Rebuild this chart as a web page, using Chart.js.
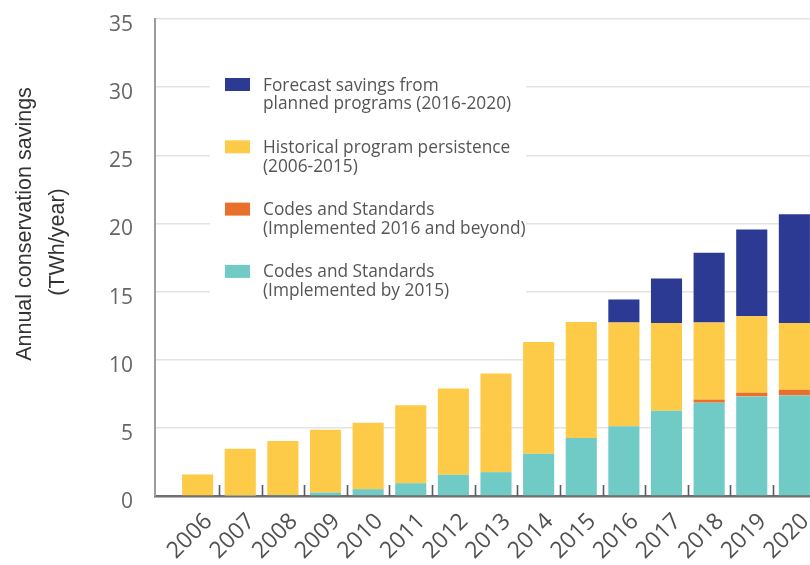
<!DOCTYPE html>
<html>
<head>
<meta charset="utf-8">
<title>Annual conservation savings</title>
<script src="https://cdn.jsdelivr.net/npm/chart.js@4.4.1/dist/chart.umd.min.js"></script>
<style>
  html, body { margin: 0; padding: 0; background: #ffffff; overflow: hidden; }
  #wrap { width: 860px; height: 565px; }
</style>
</head>
<body>
<div id="wrap"><canvas id="chart" width="860" height="565"></canvas></div>
<script>
// Annual conservation savings, TWh/year
const years = [2006, 2007, 2008, 2009, 2010, 2011, 2012, 2013, 2014, 2015, 2016, 2017, 2018, 2019, 2020];
const codesBy2015   = [0, 0.03, 0.08, 0.25, 0.5, 0.94, 1.56, 1.75, 3.10, 4.25, 5.11, 6.26, 6.85, 7.31, 7.38];
const codes2016On   = [0, 0, 0, 0, 0, 0, 0, 0, 0, 0, 0, 0, 0.22, 0.27, 0.42];
const historical    = [1.58, 3.44, 3.95, 4.61, 4.88, 5.71, 6.32, 7.23, 8.20, 8.52, 7.62, 6.44, 5.66, 5.61, 4.90];
const forecast      = [0, 0, 0, 0, 0, 0, 0, 0, 0, 0, 1.69, 3.26, 5.11, 6.37, 7.98];
const yTickValues   = [0, 5, 10, 15, 20, 25, 30, 35];

const labelForecast   = ['Forecast savings from', 'planned programs (2016-2020)'];
const labelHistorical = ['Historical program persistence', '(2006-2015)'];
const labelCodesNew   = ['Codes and Standards', '(Implemented 2016 and beyond)'];
const labelCodesOld   = ['Codes and Standards', '(Implemented by 2015)'];
const yTitleLines     = ['Annual conservation savings', '(TWh/year)'];

const toPoints = (vals) => years.map((yr, i) => ({ x: yr, y: vals[i] }));

const UI_FONT = "'Open Sans', 'Noto Sans', sans-serif";

// Small tick marks standing on the x axis between neighbouring bars
const boundaryTicks = {
  id: 'boundaryTicks',
  afterDatasetsDraw(chart) {
    const xs = chart.scales.x, ys = chart.scales.y, ctx = chart.ctx;
    ctx.save();
    ctx.strokeStyle = '#56596b';
    ctx.lineWidth = 1.6;
    for (let i = 0; i < years.length - 1; i++) {
      const px = Math.round(xs.getPixelForValue((years[i] + years[i + 1]) / 2)) + 0.5;
      ctx.beginPath();
      ctx.moveTo(px, ys.bottom - 11);
      ctx.lineTo(px, ys.bottom);
      ctx.stroke();
    }
    ctx.restore();
  }
};

// Legend block inside the plot, listed from the top of the stack down
const boxLegend = {
  id: 'boxLegend',
  afterDatasetsDraw(chart) {
    const ctx = chart.ctx;
    const sets = chart.data.datasets.slice().reverse();
    ctx.save();
    ctx.fillStyle = '#ffffff';
    ctx.fillRect(210, 60, 316, 246);
    ctx.font = '17.3px ' + UI_FONT;
    ctx.textBaseline = 'alphabetic';
    ctx.textAlign = 'left';
    sets.forEach((ds, i) => {
      const top = 78 + i * 62.3;
      ctx.fillStyle = ds.backgroundColor;
      ctx.fillRect(225, top, 25, 13);
      ctx.fillStyle = '#555555';
      ds.label.forEach((line, j) => {
        ctx.fillText(line, 263, top + 12.5 + j * 18.8);
      });
    });
    ctx.restore();
  }
};

// Two-line rotated title beside the value axis
const yTitle = {
  id: 'yTitle',
  afterDraw(chart) {
    const ctx = chart.ctx;
    const spots = [[25, 224], [58, 242]];
    ctx.save();
    ctx.fillStyle = '#333333';
    ctx.font = "21.5px 'Liberation Sans', Arial, sans-serif";
    ctx.textAlign = 'center';
    ctx.textBaseline = 'middle';
    yTitleLines.forEach((line, i) => {
      ctx.save();
      ctx.translate(spots[i][0], spots[i][1]);
      ctx.rotate(-Math.PI / 2);
      ctx.fillText(line, 0, 0);
      ctx.restore();
    });
    ctx.restore();
  }
};

const barCommon = { barPercentage: 0.73, categoryPercentage: 1.0, borderWidth: 0 };

new Chart(document.getElementById('chart'), {
  type: 'bar',
  data: {
    datasets: [
      { ...barCommon, label: labelCodesOld,   data: toPoints(codesBy2015), backgroundColor: '#70cbc6' },
      { ...barCommon, label: labelCodesNew,   data: toPoints(codes2016On), backgroundColor: '#e9702b' },
      { ...barCommon, label: labelHistorical, data: toPoints(historical),  backgroundColor: '#fecb48' },
      { ...barCommon, label: labelForecast,   data: toPoints(forecast),    backgroundColor: '#2d3a94' }
    ]
  },
  options: {
    responsive: false,
    animation: false,
    devicePixelRatio: 1,
    layout: { padding: { top: 19, right: 23, bottom: 0, left: 0 } },
    plugins: {
      legend: { display: false },
      tooltip: { enabled: false }
    },
    scales: {
      x: {
        type: 'linear',
        stacked: true,
        min: 2005,
        max: 2021,
        offset: false,
        afterBuildTicks(axis) { axis.ticks = years.map(v => ({ value: v })); },
        afterFit(axis) { axis.height = 69; axis.paddingLeft = 0; axis.paddingRight = 0; },
        grid: { display: false },
        border: { display: true, color: '#6e6e6e', width: 2.5 },
        ticks: {
          autoSkip: false,
          minRotation: 45,
          maxRotation: 45,
          padding: 4,
          labelOffset: 11,
          color: '#505050',
          font: { family: UI_FONT, size: 23 },
          callback: (v) => String(v)
        }
      },
      y: {
        stacked: true,
        min: 0,
        max: 35,
        afterBuildTicks(axis) { axis.ticks = yTickValues.map(v => ({ value: v })); },
        afterFit(axis) { axis.width = 155; axis.paddingTop = 0; axis.paddingBottom = 0; },
        grid: { color: '#e3e3e3', lineWidth: 1.5, drawTicks: false },
        border: { display: true, color: '#9c9c9c', width: 2 },
        ticks: {
          padding: 22,
          labelOffset: 6,
          color: '#666666',
          font: { family: UI_FONT, size: 21 },
          callback: (v) => String(v)
        }
      }
    }
  },
  plugins: [boundaryTicks, boxLegend, yTitle]
});
</script>
</body>
</html>
